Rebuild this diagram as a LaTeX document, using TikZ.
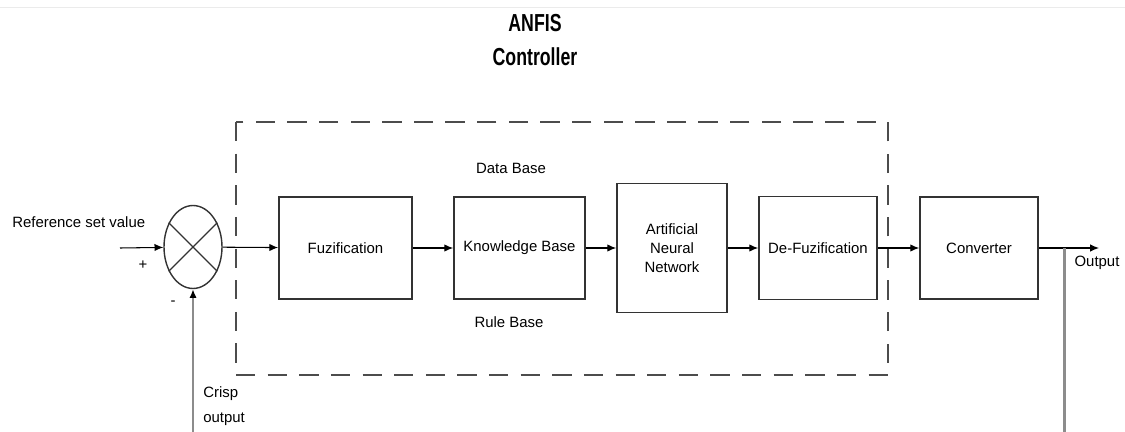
\documentclass[tikz,border=0pt]{standalone}
\usepackage{fontspec}
\setmainfont{Liberation Sans}
\usetikzlibrary{shapes.geometric,arrows.meta}

\begin{document}
\begin{tikzpicture}[x=0.02cm,y=-0.02cm,
   >={Latex[length=5pt,width=4.2pt,black]},
   bloc/.style={draw=black!80,line width=1pt,font=\fontsize{8.5}{11}\selectfont,align=center},
   somme/.style={ellipse,draw=black!80,line width=0.8pt,minimum width=1.16cm,minimum height=1.66cm},
   etiquette/.style={font=\fontsize{8.5}{11}\selectfont,inner sep=0pt},
   fleche/.style={->,line width=0.6pt},
   retour/.style={draw=black!45,line width=1.7pt},
   cadre/.style={draw=black!70,line width=0.9pt,dash pattern=on 11pt off 7pt}]

  \useasboundingbox (0,0) rectangle (1125,432);
  \draw[black!8,line width=0.5pt] (0,7) -- (1125,7);

  \node[font=\bfseries\fontsize{14}{19.5}\selectfont,align=center] (titre) at (535,40)
    {\scalebox{0.72}[1]{ANFIS}\\\scalebox{0.72}[1]{Controller}};

  \draw[cadre] (236,122) rectangle (888,375);

  \node[somme] (s) at (193,247) {};
  \draw[line width=0.8pt,black!80] (s.45) -- (s.225) (s.135) -- (s.315);

  \node[bloc,minimum width=2.66cm,minimum height=2.04cm] (fuz) at (345.5,248) {Fuzification};
  \node[bloc,minimum width=2.62cm,minimum height=2.04cm] (kb) at (519.5,248) {Knowledge Base};
  \node[bloc,minimum width=2.2cm,minimum height=2.58cm] (ann) at (672,248) {Artificial\\Neural\\Network};
  \node[bloc,minimum width=2.36cm,minimum height=2.06cm] (defuz) at (818,248) {De-Fuzification};
  \node[bloc,minimum width=2.36cm,minimum height=2.04cm] (conv) at (979,248) {Converter};

  \node[etiquette] (db) at (511,168) {Data Base};
  \node[etiquette] (rb) at (509,322) {Rule Base};

  \node[etiquette,anchor=west] (ref) at (12,222) {Reference set value};
  \node[etiquette] (plus) at (143,265) {+};
  \node[etiquette] (moins) at (173,303) {-};
  \node[etiquette,anchor=west,align=left,font=\fontsize{8.5}{14}\selectfont] (crisp) at (203,406) {Crisp\\output};
  \node[etiquette] (sortie) at (1097,263) {Output};

  \coordinate (entree) at (120,248);
  \coordinate (br) at (1064,248);
  \coordinate (out) at (1099,248);
  \coordinate (basd) at (1064,432);
  \coordinate (basg) at (193,432);

  \draw[fleche] (entree) -- (s);
  \foreach \from/\to in {s/fuz,fuz/kb,kb/ann,ann/defuz,defuz/conv,conv/out}
    \draw[fleche] (\from) -- (\to);
  \draw[retour] (br) -- (basd);
  \draw[retour,->] (basg) -- (s.south);
\end{tikzpicture}
\end{document}
